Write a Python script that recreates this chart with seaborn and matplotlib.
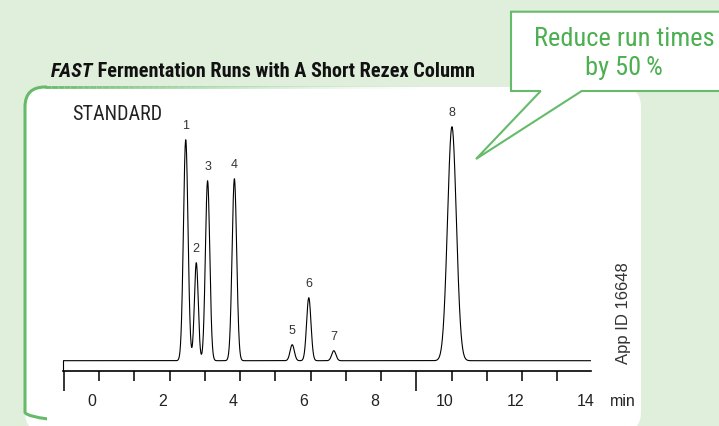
import numpy as np
import pandas as pd
import seaborn as sns
import matplotlib.pyplot as plt
from matplotlib import font_manager
from matplotlib.patches import FancyBboxPatch, Polygon, Rectangle
from matplotlib.collections import LineCollection

# Picos del cromatograma
peak_ids = ["1", "2", "3", "4", "5", "6", "7", "8"]
peak_times = [2.65, 2.95, 3.27, 4.03, 5.67, 6.14, 6.85, 10.20]      # min
peak_heights = [221, 98, 180, 182, 16, 63, 10, 234]                  # respuesta relativa
peak_widths = [0.065, 0.055, 0.062, 0.065, 0.06, 0.062, 0.06, 0.125]  # sigma, min

tick_labels = [0, 2, 4, 6, 8, 10, 12, 14]

# buscar una fuente estrecha
names = {f.name for f in font_manager.fontManager.ttflist}
cands = ["Roboto Condensed", "Liberation Sans Narrow", "Noto Sans Condensed", "Roboto"]
narrow = next(n for n in cands if n in names)

sns.set_theme(style="white")
plt.rcParams["font.family"] = ["Liberation Sans", "DejaVu Sans"]

bg_col = "#e0eedc"
green = "#4caf50"
green_line = "#66bb6a"

fig = plt.figure(figsize=(7.19, 4.26), dpi=100, facecolor=bg_col)

# capa de fondo en pixeles
bg = fig.add_axes([0, 0, 1, 1], zorder=0)
bg.set_xlim(0, 719)
bg.set_ylim(426, 0)
bg.axis("off")

panel = FancyBboxPatch((25, 87), 616, 345, boxstyle="round,pad=0,rounding_size=20",
                       fc="white", ec="none")
bg.add_patch(panel)
borde = FancyBboxPatch((25, 87), 616, 345, boxstyle="round,pad=0,rounding_size=20",
                       fc="none", ec=green_line, lw=2.2)
bg.add_patch(borde)
borde.set_clip_path(Rectangle((0, 0), 47, 426, transform=bg.transData))
xs = np.linspace(45, 420, 60)
segs = [[(xs[i], 87), (xs[i + 1], 87)] for i in range(len(xs) - 1)]
alphas = np.linspace(1, 0.05, len(segs)) ** 1.5
cols = [(0.40, 0.73, 0.42, a) for a in alphas]
bg.add_collection(LineCollection(segs, colors=cols, linewidths=2.0))

# titulo
t1 = bg.text(51, 76.7, "FAST", family=[narrow, "DejaVu Sans"], fontsize=14.6,
             weight="bold", style="italic", va="baseline", color="#111111")
bg.annotate(" Fermentation Runs with A Short Rezex Column", xy=(1, 0), xycoords=t1,
            va="bottom", ha="left", family=[narrow, "DejaVu Sans"], fontsize=14.6,
            weight="bold", color="#111111")

# globo
callout = Polygon([(511, 11.7), (740, 11.7), (740, 91), (581.7, 91), (476, 159),
                   (540.7, 91), (511, 91)], closed=True, fc="white", ec=green_line, lw=1.5)
bg.add_patch(callout)
bg.text(624, 45.7, "Reduce run times", ha="center", va="baseline", color=green,
        family=[narrow, "DejaVu Sans"], fontsize=19)
bg.text(624, 75, "by 50\u2009%", ha="center", va="baseline", color=green,
        family=[narrow, "DejaVu Sans"], fontsize=19)

bg.text(71.7, 120, "STANDARD", ha="left", va="baseline", color="#222222",
        family=[narrow, "DejaVu Sans"], fontsize=14.5)
bg.text(623.5, 313, "App ID 16648", rotation=90, ha="center", va="center",
        color="#333333", fontsize=12)

# cromatograma
t = np.linspace(-0.82, 14.14, 4000)
signal = np.zeros_like(t)
for tr, h, s in zip(peak_times, peak_heights, peak_widths):
    signal += h * np.exp(-0.5 * ((t - tr) / s) ** 2)
df = pd.DataFrame({"min": t, "signal": signal})

ax = fig.add_axes([63.3 / 719, (426 - 370.7) / 426, 527.4 / 719, 270.7 / 426], zorder=1)
ax.patch.set_alpha(0)
sns.lineplot(data=df, x="min", y="signal", ax=ax, color="black", lw=0.8)
ax.set_xlim(-0.822, 14.135)
ax.set_ylim(-10, 260.7)

for pid, tr, h in zip(peak_ids, peak_times, peak_heights):
    ax.annotate(pid, xy=(tr, h), xytext=(0, 10), textcoords="offset points",
                ha="center", va="center", fontsize=9, color="#333333")

for side in ["top", "right"]:
    ax.spines[side].set_visible(False)
ax.spines["left"].set_bounds(-10, 0)
ax.spines["left"].set_linewidth(0.8)
ax.spines["left"].set_color("black")
ax.spines["bottom"].set_color("black")
ax.spines["bottom"].set_linewidth(1.2)
ax.set_yticks([])
ax.set_ylabel("")

ax.set_xticks(tick_labels)
ax.set_xticklabels([str(v) for v in tick_labels], fontsize=11.5, color="#222222")
ax.tick_params(axis="x", which="major", length=0, pad=17)
ax.set_xticks([k + 0.19 for k in range(0, 14) if k != 9], minor=True)
ax.tick_params(axis="x", which="minor", direction="out", length=7.2, width=1.1,
               color="black", bottom=True)
sec = ax.secondary_xaxis("bottom")
sec.set_xticks([-0.81, 9.19])
sec.set_xticklabels(["", ""])
sec.tick_params(length=14.4, width=1.1, color="black")
sec.spines["bottom"].set_visible(False)

ax.set_xlabel("min", fontsize=11.5, color="#222222")
ax.xaxis.set_label_coords(1.061, -0.1145)
ax.xaxis.label.set_va("center")

fig.savefig("out.png", dpi=100, facecolor=bg_col)
